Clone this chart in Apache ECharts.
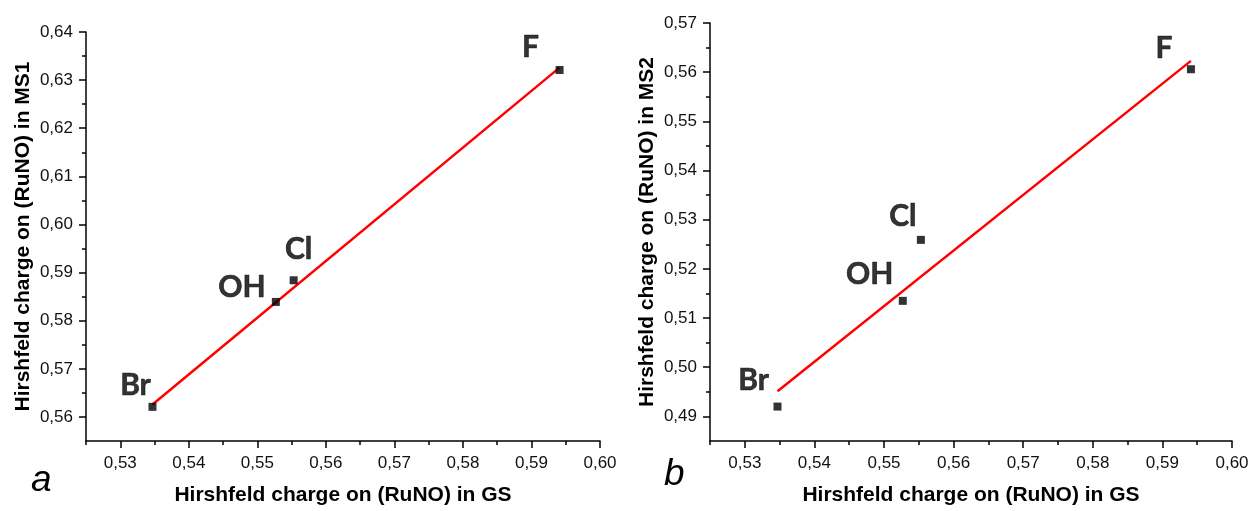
<!DOCTYPE html>
<html>
<head>
<meta charset="utf-8">
<script src="https://cdn.jsdelivr.net/npm/echarts@6/dist/echarts.min.js"></script>
<style>
html,body{margin:0;padding:0;background:#fff;}
#chart{width:1255px;height:511px;}
</style>
</head>
<body>
<div id="chart"></div>
<script>
// ---- data ----
const ligands = ['Br', 'OH', 'Cl', 'F'];
const gsCharge = [0.5347, 0.5527, 0.5553, 0.5941];
const ms1Charge = [0.5621, 0.5839, 0.5884, 0.6321];
const ms2Charge = [0.4920, 0.5135, 0.5259, 0.5606];
const fitX = [0.5347, 0.5941];
const fitMS1 = [0.5626, 0.6326];
const fitMS2 = [0.4951, 0.5623];
const xTicks = [0.53, 0.54, 0.55, 0.56, 0.57, 0.58, 0.59, 0.60];
const xMinorTicks = [0.525, 0.535, 0.545, 0.555, 0.565, 0.575, 0.585, 0.595];
const yTicksMS1 = [0.56, 0.57, 0.58, 0.59, 0.60, 0.61, 0.62, 0.63, 0.64];
const yMinorMS1 = [0.565, 0.575, 0.585, 0.595, 0.605, 0.615, 0.625, 0.635];
const yTicksMS2 = [0.49, 0.50, 0.51, 0.52, 0.53, 0.54, 0.55, 0.56, 0.57];
const yMinorMS2 = [0.495, 0.505, 0.515, 0.525, 0.535, 0.545, 0.555, 0.565];
const xTitle = 'Hirshfeld charge on (RuNO) in GS';
const yTitleMS1 = 'Hirshfeld charge on (RuNO) in MS1';
const yTitleMS2 = 'Hirshfeld charge on (RuNO) in MS2';

// ---- layout (not data) ----
const labelOffsetsA = [[-17, -22], [-34, -15], [5, -31], [-29, -23]];
const labelOffsetsB = [[-24, -26], [-33, -27], [-18, -24], [-27, -21]];

const fmt = v => v.toFixed(2).replace('.', ',');
const tickFont = {fontFamily: 'Liberation Sans, Arial, sans-serif', fontSize: 17, color: '#111'};
const titleFont = {fontFamily: 'Liberation Sans, Arial, sans-serif', fontSize: 21, fontWeight: 'bold', color: '#000'};
const lineStyle = {color: '#000', width: 1.5};

function axisPair(dim, gridIndex, min, max, majors, minors, name, nameGap) {
  const major = {
    type: 'value', gridIndex, min, max, position: dim === 'x' ? 'bottom' : 'left',
    name, nameLocation: 'middle', nameGap, nameRotate: dim === 'x' ? 0 : 90,
    nameTextStyle: titleFont,
    axisLine: {show: true, onZero: false, lineStyle},
    axisTick: {show: true, inside: false, length: 7, lineStyle, customValues: majors},
    axisLabel: Object.assign({show: true, margin: dim === 'x' ? 14 : 13, formatter: fmt, customValues: majors}, tickFont),
    splitLine: {show: false}
  };
  const minor = {
    type: 'value', gridIndex, min, max, position: dim === 'x' ? 'bottom' : 'left',
    axisLine: {show: false, onZero: false},
    axisTick: {show: true, inside: false, length: 4, lineStyle, customValues: minors},
    axisLabel: {show: false},
    splitLine: {show: false}
  };
  return [major, minor];
}

function scatterData(ys, offsets) {
  return gsCharge.map((x, i) => ({
    value: [x, ys[i]],
    name: ligands[i],
    label: {offset: offsets[i]}
  }));
}

const labelStyle = {
  show: true, position: 'inside', formatter: p => p.name,
  fontFamily: 'Lato, sans-serif', fontWeight: 'bold', fontSize: 30, color: '#000',
  textBorderColor: '#000', textBorderWidth: 0.6,
  align: 'center', verticalAlign: 'middle'
};

const xa = axisPair('x', 0, 0.525, 0.60, xTicks, xMinorTicks, xTitle, 44);
const xb = axisPair('x', 1, 0.525, 0.60, xTicks, xMinorTicks, xTitle, 44);
const ya = axisPair('y', 0, 0.555, 0.64, yTicksMS1, yMinorMS1, yTitleMS1, 52);
const yb = axisPair('y', 1, 0.485, 0.57, yTicksMS2, yMinorMS2, yTitleMS2, 52);

const option = {
  animation: false,
  backgroundColor: '#fff',
  grid: [
    {left: 86, top: 32, width: 514, height: 411},
    {left: 710, top: 23, width: 522, height: 420}
  ],
  xAxis: [xa[0], xa[1], xb[0], xb[1]],
  yAxis: [ya[0], ya[1], yb[0], yb[1]],
  graphic: [
    {type: 'text', left: 31, top: 462, style: {text: 'a', fontFamily: 'Liberation Sans, Arial, sans-serif', fontStyle: 'italic', fontSize: 37, fill: '#000'}},
    {type: 'text', left: 664, top: 456, style: {text: 'b', fontFamily: 'Liberation Sans, Arial, sans-serif', fontStyle: 'italic', fontSize: 37, fill: '#000'}}
  ],
  series: [
    {
      type: 'line', xAxisIndex: 0, yAxisIndex: 0, symbol: 'none', z: 2,
      lineStyle: {color: '#ff0000', width: 2.5},
      data: fitX.map((x, i) => [x, fitMS1[i]])
    },
    {
      type: 'scatter', xAxisIndex: 0, yAxisIndex: 0, symbol: 'rect', symbolSize: 8, z: 3,
      itemStyle: {color: '#000'}, label: labelStyle,
      data: scatterData(ms1Charge, labelOffsetsA)
    },
    {
      type: 'line', xAxisIndex: 2, yAxisIndex: 2, symbol: 'none', z: 2,
      lineStyle: {color: '#ff0000', width: 2.5},
      data: fitX.map((x, i) => [x, fitMS2[i]])
    },
    {
      type: 'scatter', xAxisIndex: 2, yAxisIndex: 2, symbol: 'rect', symbolSize: 8, z: 3,
      itemStyle: {color: '#000'}, label: labelStyle,
      data: scatterData(ms2Charge, labelOffsetsB)
    }
  ]
};

const chart = echarts.init(document.getElementById('chart'), null, {renderer: 'canvas'});
chart.setOption(option);
</script>
</body>
</html>
